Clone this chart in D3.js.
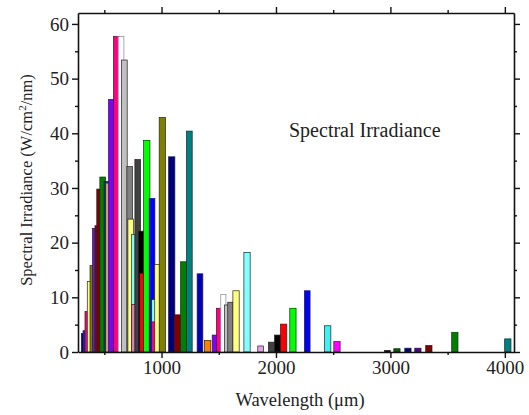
<!doctype html>
<html lang='en'>
<head>
<meta charset="utf-8">
<script src="https://d3js.org/d3.v7.min.js"></script>
<title>Spectral Irradiance</title>
<style>
  body { margin: 0; background: white; }
  svg { display: block; font-family: "Liberation Serif", "Times New Roman", serif; }
</style>
</head>
<body>
<div id='chart'></div>
<script>
// bar centres (nm), heights (W/cm2/nm), band widths (nm) and fill colours, in drawing order
const wavelengths = [314, 329, 346, 366, 390, 412, 433, 454, 486, 520, 532, 562, 605, 646, 675,
  722, 731, 754, 754, 792, 821, 827, 871, 917, 934, 934, 963, 1007, 1089, 1138, 1194, 1243,
  1336, 1403, 1465, 1502, 1540, 1572, 1601, 1651, 1747, 1866, 1962, 2015, 2067, 2148, 2273,
  2452, 2533, 2974, 3057, 3153, 3240, 3336, 3563, 4026];
const irradiance = [3.4, 3.9, 7.4, 12.9, 15.8, 22.6, 23.1, 29.8, 32.0, 31.2, 30.9, 46.2, 57.7, 57.7, 53.4,
  33.9, 24.3, 21.5, 8.7, 35.2, 22.1, 14.4, 38.7, 28.1, 9.6, 5.5, 16.0, 42.9, 35.7, 6.8, 16.5, 40.4,
  14.3, 2.1, 3.1, 8.0, 10.5, 8.6, 9.1, 11.2, 18.2, 1.1, 1.8, 3.1, 5.1, 8.0, 11.2,
  4.8, 1.9, 0.3, 0.6, 0.7, 0.7, 1.2, 3.6, 2.4];
const bandwidths = [30, 30, 30, 30, 30, 30, 30, 40, 50, 45, 40, 50, 50, 50, 50,
  50, 50, 30, 30, 50, 45, 35, 55, 50, 40, 40, 45, 55, 55, 55, 55, 50,
  50, 55, 45, 45, 45, 45, 45, 55, 55, 50, 55, 55, 55, 55, 50,
  55, 55, 50, 55, 55, 55, 55, 55, 55];
const colors = ['#000080', '#2020e0', '#ff0080', '#ffff80', '#808000', '#6020c0', '#800040',
  '#800000', '#008000', '#004070', '#d0a080', '#8000ff', '#ff0080', '#ffffff', '#c0c0c0',
  '#808080', '#ffff80', '#80ffff', '#e080c0', '#404040', '#000000', '#ff0000', '#00ff00',
  '#0000ff', '#80ffff', '#ff0080', '#ffff80', '#808000', '#000080', '#800000', '#008000',
  '#008080', '#0000c0', '#ff8000', '#8000ff', '#ff0080', '#ffffff', '#c0c0c0', '#808080',
  '#ffff80', '#80ffff', '#e8a0e8', '#404040', '#000000', '#ff0000', '#00ff00', '#0000ff',
  '#40f0f0', '#ff00ff', '#000000', '#006000', '#000080', '#500090', '#800000', '#008000',
  '#008080'];

const xMajor = [1000, 2000, 3000, 4000];
const xMinor = [500, 1500, 2500, 3500];
const yMajor = [0, 10, 20, 30, 40, 50, 60];
const yMinor = [5, 15, 25, 35, 45, 55];

const W = 529, H = 415;
const mLeft = 78, mRight = 514, mTop = 13, mBottom = 352;

const x = d3.scaleLinear().domain([270, 4080]).range([mLeft, mRight]);
const y = d3.scaleLinear().domain([0, 62]).range([mBottom, mTop]);

const svg = d3.select('#chart').append('svg')
  .attr('width', W)
  .attr('height', H);

const bars = wavelengths.map((w, i) => ({w: w, v: irradiance[i], bw: bandwidths[i], c: colors[i]}));

svg.append('g')
  .selectAll('rect')
  .data(bars)
  .enter()
  .append('rect')
  .attr('x', d => x(d.w - d.bw / 2))
  .attr('y', d => y(d.v))
  .attr('width', d => x(d.w + d.bw / 2) - x(d.w - d.bw / 2))
  .attr('height', d => y(0) - y(d.v))
  .attr('fill', d => d.c)
  .attr('stroke', d => d.c == '#ffffff' ? '#888' : '#222')
  .attr('stroke-width', 0.7);

// axes on all four sides, ticks pointing out
function axis(gen, ticks, len, tr, labels) {
  const g = svg.append('g')
    .attr('transform', tr)
    .call(gen.tickValues(ticks).tickSizeInner(len).tickSizeOuter(0).tickPadding(3)
      .tickFormat(labels ? d3.format('d') : ''));
  g.select('.domain').attr('stroke', '#111').attr('stroke-width', 1.6);
  g.selectAll('.tick line').attr('stroke', '#111').attr('stroke-width', 1.4);
  g.selectAll('text').attr('font-family', '"Liberation Serif", serif')
    .attr('font-size', 19).attr('fill', '#222');
  return g;
}

axis(d3.axisBottom(x), xMajor, 6, `translate(0,${mBottom})`, true);
axis(d3.axisBottom(x), xMinor, 3, `translate(0,${mBottom})`, false).select('.domain').remove();
axis(d3.axisTop(x), xMajor, 6, `translate(0,${mTop})`, false);
axis(d3.axisTop(x), xMinor, 3, `translate(0,${mTop})`, false).select('.domain').remove();
axis(d3.axisLeft(y), yMajor, 6, `translate(${mLeft},0)`, true);
axis(d3.axisLeft(y), yMinor, 3, `translate(${mLeft},0)`, false).select('.domain').remove();
axis(d3.axisRight(y), yMajor, 6, `translate(${mRight},0)`, false);
axis(d3.axisRight(y), yMinor, 3, `translate(${mRight},0)`, false).select('.domain').remove();

svg.append('text')
  .attr('x', 300)
  .attr('y', 406)
  .attr('text-anchor', 'middle')
  .attr('font-size', 18.5)
  .attr('fill', '#222')
  .text('Wavelength (\u03bcm)');

const yt = svg.append('text')
  .attr('transform', 'translate(32,180) rotate(-90)')
  .attr('text-anchor', 'middle')
  .attr('font-size', 16.5)
  .attr('fill', '#222');
yt.append('tspan').text('Spectral Irradiance (W/cm');
yt.append('tspan').attr('baseline-shift', 'super').attr('font-size', 11).text('2');
yt.append('tspan').text('/nm)');

svg.append('text')
  .attr('x', 289)
  .attr('y', 137)
  .attr('font-size', 20)
  .attr('fill', '#222')
  .text('Spectral Irradiance');
</script>
</body>
</html>
